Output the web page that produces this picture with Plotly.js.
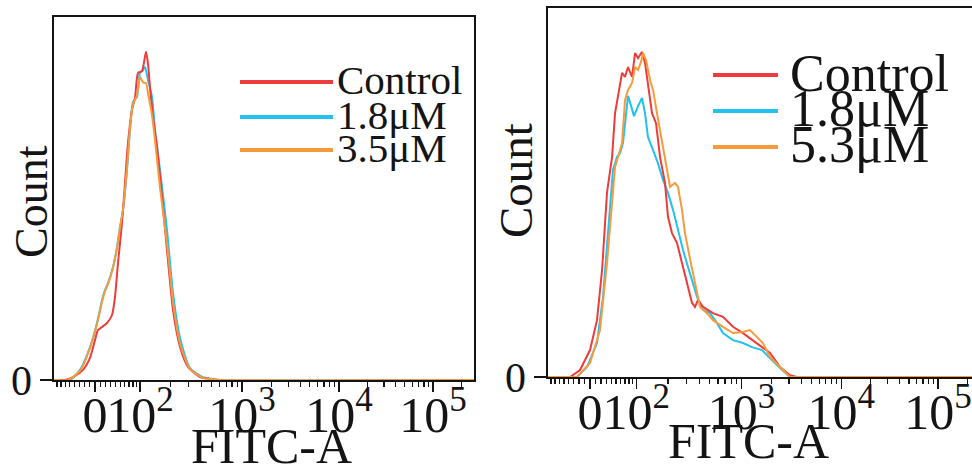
<!DOCTYPE html>
<html><head><meta charset="utf-8">
<script src="https://cdn.plot.ly/plotly-3.0.1.min.js"></script>
<style>html,body{margin:0;padding:0;background:#fff;overflow:hidden}</style>
</head><body><div id="chart" style="width:972px;height:472px"></div>
<script>
// ---------- series names & colours ----------
const namesLeft = ['Control', '1.8μM', '3.5μM'];
const namesRight = ['Control', '1.8μM', '5.3μM'];
const colors = ['#EE3B3B', '#22C1F0', '#F59B3C'];

// ---------- x tick values (FITC-A intensity) and labels ----------
const tickIntensities = [0, 100, 1000, 10000, 100000];
const tickLabels = ['0', '10<sup>2</sup>', '10<sup>3</sup>', '10<sup>4</sup>', '10<sup>5</sup>'];
const minorIntensities = [-90,-80,-70,-60,-50,-40,-30,-20,-10,10,20,30,40,50,60,70,80,90,
  200,300,400,500,600,700,800,900,2000,3000,4000,5000,6000,7000,8000,9000,
  20000,30000,40000,50000,60000,70000,80000,90000,200000];

// ---------- Left panel: display channel (x) vs count (% of scale) ----------
const leftControlX = [-41,-30,-22,-12,-5,0,3,7,12,17,20,23,27,30,33,37,40,43,47,51,53,55,58,62,67,72,78,85,93,105,115,120,379];
const leftControlY = [0,0,0.8,2.8,6.1,11.0,13.8,14.6,15.7,17.9,22.9,32.2,43.3,54.3,65.3,74.4,77.7,84.6,85.1,90.4,87.1,80.7,72.5,64.2,50.4,35.8,19.3,9.1,3.6,0.8,0.3,0,0];
const leftLow1X = [-41,-25,-15,-5,2,7,10,13,18,22,25,28,32,35,38,42,45,48,50,53,57,60,65,72,78,85,95,108,118,125,379];
const leftLow1Y = [0,0,2.8,9.1,15.7,22.0,24.8,26.7,31.1,36.6,42.1,46.8,57.9,68.9,76.6,78.0,84.6,85.4,86.2,82.6,78.0,68.9,57.9,41.3,24.0,11.6,3.3,0.8,0.3,0,0];
const leftHighX = [-41,-27,-15,-5,2,7,10,13,18,22,25,28,32,35,38,42,45,48,51,53,57,60,65,72,78,85,95,108,118,125,379];
const leftHighY = [0,0,2.5,8.8,15.4,21.5,24.5,26.4,30.9,36.4,42.0,47.0,58.5,69.5,76.0,78.5,83.5,82.0,81.8,79.0,73.0,66.0,53.0,37.5,21.5,10.0,3.0,0.6,0.2,0,0];

// ---------- Right panel ----------
const rightControlX = [-40.8,-24.3,-19.4,-9.7,0,6.8,11.7,16.5,21.4,24.3,27.2,31.1,34,36.9,40.8,43.7,46.6,50.5,53.4,56.3,60.2,64.1,68,72.8,75.7,79.6,84.5,89.3,94.2,99,101.9,104.9,109.7,119.4,129.1,138.8,148.5,157.3,167,174.8,184.5,194.2,201,370.9];
const rightControlY = [0,0,0,1.9,7.3,15.4,29.0,50.0,59.6,71.5,75.9,82.4,81.3,84.0,81.3,87.8,86.4,88.1,85.1,78.6,71.5,68.8,59.6,52.6,43.4,39.0,36.3,30.9,25.5,20.1,19.0,20.9,19.0,17.3,16.3,13.6,11.9,10.0,8.1,6.5,2.7,0.5,0,0];
const rightLow1X = [-40.8,-20,-12.6,-2.9,6.8,12.6,17.5,22.3,26.2,29.1,32,33.9,36.9,40.8,42.7,46.6,50.5,53.4,56.3,61.2,66,70.9,75.7,80.6,85.4,90.3,95.1,100,104.9,109.7,116.5,123.3,129.1,138.8,148.5,157.3,167,174.8,184.5,194.2,370.9];
const rightLow1Y = [0,0,0,2.7,9.2,21.7,37.9,56.1,59.6,60.7,63.4,67.8,76.2,72.6,70.7,73.4,75.6,71.5,65.0,61.5,57.9,53.4,49.9,45.3,39.8,34.4,29.8,25.5,20.9,18.2,17.3,14.6,11.9,10.0,9.2,8.1,7.3,5.1,2.4,0,0];
const rightHighX = [-40.8,-20,-12.6,0,9.7,16.5,21.4,24.3,27.2,31.1,34,36.9,40.8,43.7,46.6,49.5,51.5,54.4,58.3,61.2,65,69.9,74.8,77.7,82.5,85.4,89.3,92.2,97.1,101.9,106.8,113.6,119.4,129.1,138.8,148.5,155.3,162.1,167.9,174.8,184.5,194.2,370.9];
const rightHighY = [0,0,0,3.8,12.7,30.9,47.2,56.9,59.6,63.4,75.1,77.8,79.7,84.0,83.2,85.4,87.8,85.9,80.5,77.8,71.5,64.2,56.1,51.5,52.6,51.5,45.3,39.0,32.0,25.5,19.0,17.3,15.4,13.6,11.9,12.2,12.7,10.8,9.2,5.4,2.7,0,0];

// ---------- biexponential display scale (intensity -> display channel) ----------
const LIN_C = 80;             // width parameter of the linear-ish zone around 0
const DEC_POS = {2: 45, 3: 147, 4: 244, 5: 338};  // channel of each decade
function toChannel(v) {
  const a = Math.abs(v);
  if (a <= 100) return Math.sign(v) * DEC_POS[2] * Math.asinh(a / LIN_C) / Math.asinh(100 / LIN_C);
  const L = Math.log10(a), d = Math.min(Math.floor(L), 4);
  return DEC_POS[d] + (L - d) * (DEC_POS[d + 1] - DEC_POS[d]);
}
const tickVals = tickIntensities.map(toChannel);
const minorVals = minorIntensities.map(toChannel);

// ---------- layout geometry ----------
const W = 972, H = 472;
const FONT = 'Liberation Serif, "Times New Roman", serif';
const INK = '#141414';
const px = x => x / W, py = y => 1 - y / H;

function xAxis(domain, range, anchor) {
  return {
    domain, range, anchor, type: 'linear', fixedrange: true,
    showline: true, linecolor: INK, linewidth: 1.6, mirror: true,
    showgrid: false, zeroline: false, layer: 'below traces',
    tickmode: 'array', tickvals: tickVals, ticktext: tickLabels, tickangle: 0,
    ticks: 'outside', ticklen: 10, tickwidth: 1.5, tickcolor: INK,
    ticklabelstandoff: -20,
    tickfont: {family: FONT, size: 50, color: INK},
    minor: {tickmode: 'array', tickvals: minorVals, ticks: 'outside', ticklen: 5, tickwidth: 1.3, tickcolor: INK, showgrid: false}
  };
}
function yAxis(domain, anchor, mirror) {
  return {
    domain, range: [0, 100], anchor, fixedrange: true,
    showline: true, linecolor: INK, linewidth: 1.6, mirror,
    showgrid: false, zeroline: false,
    tickmode: 'array', tickvals: [0], ticktext: ['0'],
    ticks: 'outside', ticklen: 12, tickwidth: 1.4, tickcolor: INK,
    tickfont: {family: FONT, size: 42, color: INK}
  };
}

function trace(x, y, name, color, xa, ya, shape) {
  return {x, y, name, type: 'scatter', mode: 'lines', xaxis: xa, yaxis: ya,
    line: {color, width: 2, shape: shape, smoothing: 0.6}, hoverinfo: 'skip', showlegend: false};
}

const data = [
  trace(leftLow1X, leftLow1Y, namesLeft[1], colors[1], 'x', 'y', 'spline'),
  trace(leftControlX, leftControlY, namesLeft[0], colors[0], 'x', 'y', 'spline'),
  trace(leftHighX, leftHighY, namesLeft[2], colors[2], 'x', 'y', 'spline'),
  trace(rightLow1X, rightLow1Y, namesRight[1], colors[1], 'x2', 'y2', 'linear'),
  trace(rightControlX, rightControlY, namesRight[0], colors[0], 'x2', 'y2', 'linear'),
  trace(rightHighX, rightHighY, namesRight[2], colors[2], 'x2', 'y2', 'linear')
];

// legend-like keys (drawn as shapes + text)
const legendLeft = {x0: 240, x1: 333, tx: 335, rows: [82, 117, 150], size: 41, names: namesLeft};
const legendRight = {x0: 713, x1: 778, tx: 788, rows: [75, 111, 147], size: 52, names: namesRight};
const shapes = [], annotations = [];
[legendLeft, legendRight].forEach(lg => {
  lg.rows.forEach((r, i) => {
    shapes.push({type: 'line', xref: 'paper', yref: 'paper', x0: px(lg.x0), x1: px(lg.x1), y0: py(r), y1: py(r),
      line: {color: colors[i], width: 4}});
    annotations.push({xref: 'paper', yref: 'paper', x: px(lg.tx), y: py(r - 2), xanchor: 'left', yanchor: 'middle',
      showarrow: false, text: lg.names[i], font: {family: FONT, size: lg.size, color: INK}});
  });
});
// axis titles
annotations.push(
  {xref: 'paper', yref: 'paper', x: px(31), y: py(202), textangle: -90, showarrow: false, text: 'Count',
   xanchor: 'center', yanchor: 'middle', font: {family: FONT, size: 46, color: INK}},
  {xref: 'paper', yref: 'paper', x: px(516), y: py(181), textangle: -90, showarrow: false, text: 'Count',
   xanchor: 'center', yanchor: 'middle', font: {family: FONT, size: 47, color: INK}},
  {xref: 'paper', yref: 'paper', x: px(271), y: py(446), showarrow: false, text: 'FITC-A',
   xanchor: 'center', yanchor: 'middle', font: {family: FONT, size: 50, color: INK}},
  {xref: 'paper', yref: 'paper', x: px(748), y: py(441), showarrow: false, text: 'FITC-A',
   xanchor: 'center', yanchor: 'middle', font: {family: FONT, size: 50, color: INK}}
);

const layout = {
  width: W, height: H, autosize: false,
  margin: {l: 0, r: 0, t: 0, b: 0, pad: 0},
  paper_bgcolor: '#fff', plot_bgcolor: '#fff', showlegend: false,
  xaxis: xAxis([px(54), px(474)], [-41, 379], 'y'),
  yaxis: yAxis([py(380), py(17)], 'x', true),
  xaxis2: Object.assign(xAxis([px(548), 1], [-40.8, 370.9], 'y2'), {mirror: true}),
  yaxis2: yAxis([py(377), py(8)], 'x2', false),
  shapes, annotations
};

Plotly.newPlot('chart', data, layout, {staticPlot: true, displayModeBar: false});
</script></body></html>
